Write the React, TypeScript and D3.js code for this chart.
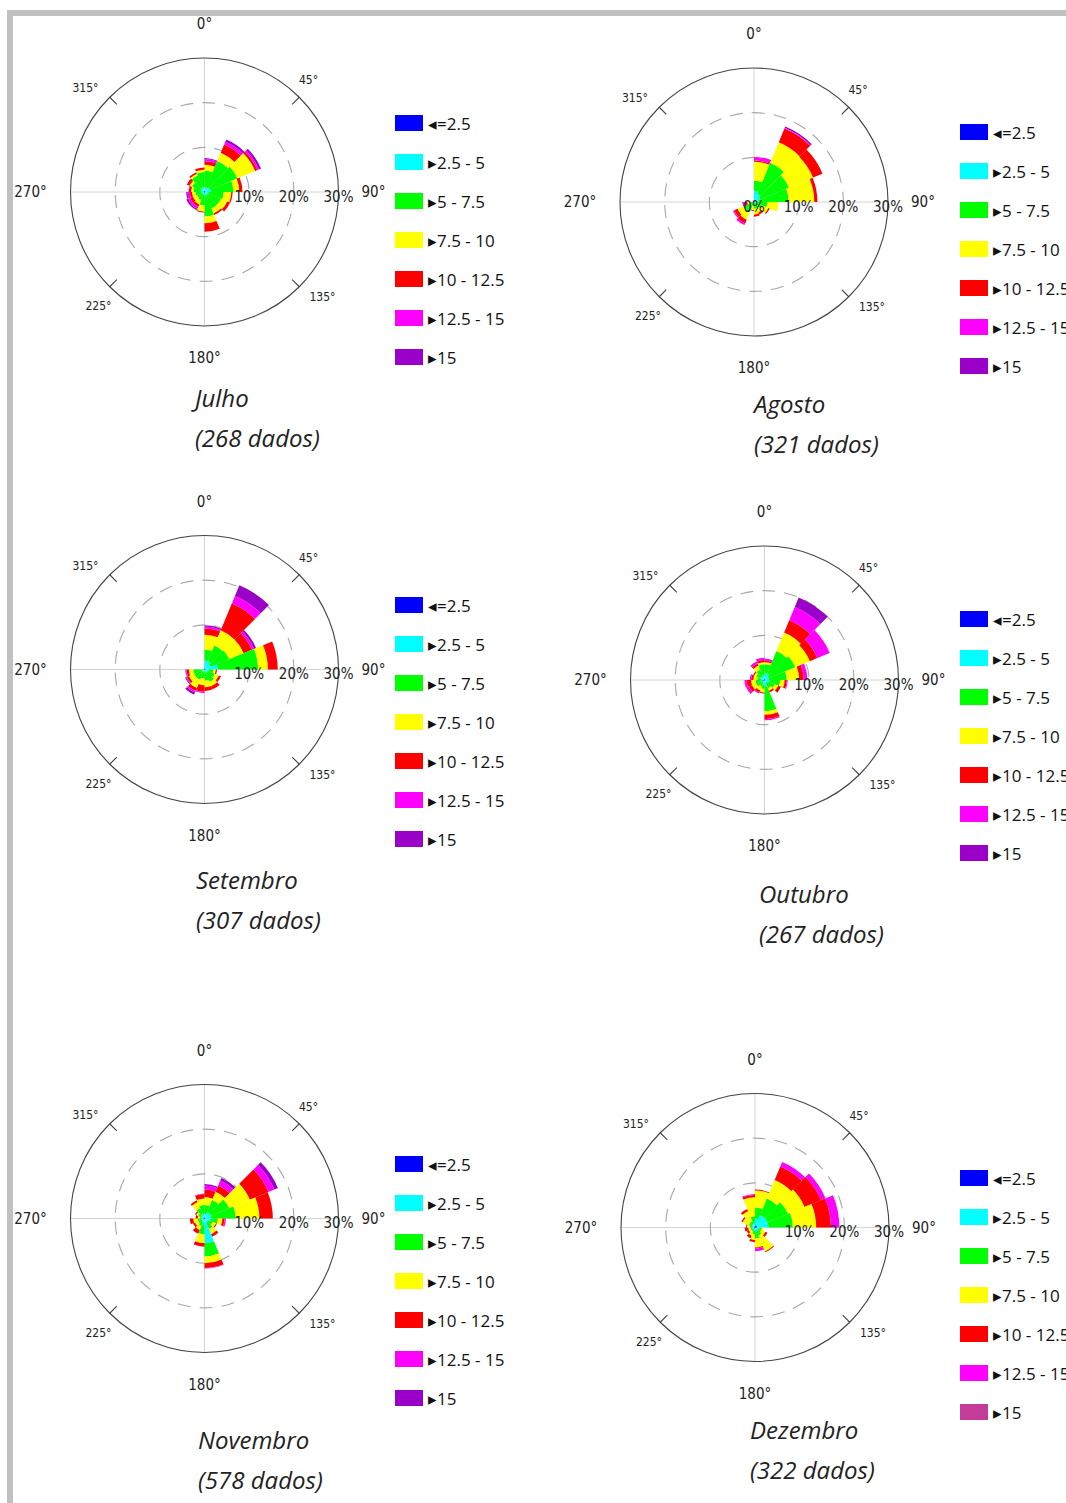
import * as d3 from 'd3';

// speed classes (m/s) and their colours
const classLabels = ['\u25C2=2.5', '\u25B82.5 - 5', '\u25B85 - 7.5', '\u25B87.5 - 10', '\u25B810 - 12.5', '\u25B812.5 - 15', '\u25B815'];
const classColors = ['#0000ff', '#00ffff', '#00ff00', '#ffff00', '#ff0000', '#ff00ff', '#9a00c8'];

// sector start angles (deg, clockwise from north), each 22.5 wide
const sectorStarts = [0, 22.5, 45, 67.5, 90, 112.5, 135, 157.5, 180, 202.5, 225, 247.5, 270, 292.5, 315, 337.5];
const ringTicks = [10, 20];

// frequency (%) per sector, per speed class
const julho = [
  [0.3, 0.7, 3.8, 1.3, 0.8, 0.5, 0.2],
  [0.2, 0.8, 6.5, 2.0, 2.0, 0.7, 0.5],
  [0.2, 1.0, 6.8, 4.3, 0.5, 0.4, 0.5],
  [0.2, 1.3, 5.0, 1.3, 0.7, 0, 0],
  [0.2, 0.8, 3.3, 1.7, 0.3, 0, 0],
  [0.1, 0.7, 3.2, 1.5, 0.7, 0, 0],
  [0.1, 0.7, 3.2, 1.2, 0.4, 0, 0],
  [0.1, 0.7, 4.7, 1.5, 1.9, 0, 0],
  [0.1, 0.5, 2.4, 1.4, 0.2, 0, 0],
  [0.1, 0.5, 1.4, 1.0, 0.6, 0.5, 0.3],
  [0.1, 0.4, 1.3, 1.0, 0.7, 0.5, 0.4],
  [0.2, 0.5, 1.3, 0.8, 0.5, 0.5, 0.3],
  [0.2, 0.6, 1.7, 0.5, 0.5, 0.1, 0],
  [0.2, 0.6, 2.2, 0.6, 0.7, 0, 0],
  [0.2, 0.8, 3.0, 0.4, 0.4, 0, 0],
  [0.2, 0.8, 3.5, 0.5, 0.5, 0, 0],
];
const agosto = [
  [0.3, 2.2, 2.3, 4.2, 0.3, 0.8, 0],
  [0.3, 1.7, 7.5, 5.0, 3.3, 0.2, 0.3],
  [0.2, 1.3, 7.0, 5.8, 2.3, 0, 0],
  [0.2, 0.8, 6.8, 5.7, 0.7, 0, 0],
  [0.1, 0.4, 2.5, 2.5, 0, 0, 0],
  [0.1, 0.3, 1.6, 1.5, 0.3, 0, 0],
  [0.1, 0.2, 1.2, 1.0, 0.5, 0, 0],
  [0.1, 0.2, 1.2, 1.3, 0.5, 0, 0],
  [0.1, 0.2, 0.7, 0.8, 0.2, 0, 0],
  [0.1, 0.4, 2.0, 1.8, 0.9, 0.4, 0],
  [0.1, 0.4, 2.0, 1.5, 0.8, 0.3, 0],
  [0.1, 0.2, 0.5, 0.7, 0.5, 0.6, 0],
  [0.1, 0.1, 0.1, 0, 0, 0, 0],
  [0.1, 0.1, 0, 0, 0, 0, 0],
  [0.1, 0.1, 0, 0, 0, 0, 0],
  [0.1, 0.2, 0.1, 0, 0, 0, 0],
];
const setembro = [
  [0.3, 1.7, 2.5, 3.3, 1.4, 0.4, 0.3],
  [0.3, 1.7, 3.8, 3.7, 6.5, 1.8, 2.6],
  [0.3, 1.2, 4.5, 3.5, 2.0, 0.5, 0.5],
  [0.2, 2.8, 9.0, 2.2, 2.2, 0, 0],
  [0.1, 0.9, 1.0, 0.5, 0.3, 0, 0],
  [0.1, 0.7, 1.7, 1.0, 0.5, 0, 0],
  [0.1, 0.7, 2.2, 1.0, 0.8, 0, 0],
  [0.1, 0.4, 2.0, 1.5, 0.8, 0, 0],
  [0.1, 0.4, 1.5, 1.5, 1.5, 0.3, 0],
  [0.1, 0.4, 2.0, 2.0, 0.7, 0.4, 0.5],
  [0.1, 0.4, 2.0, 1.3, 0.5, 0.2, 0.2],
  [0.1, 0.4, 2.0, 1.0, 0.5, 0.2, 0.1],
  [0.1, 0.2, 0.1, 0, 0, 0, 0],
  [0.1, 0.1, 0, 0, 0, 0, 0],
  [0.1, 0.1, 0, 0, 0, 0, 0],
  [0.1, 0.2, 0.1, 0, 0, 0, 0],
];
const outubro = [
  [0.2, 1.3, 2.0, 0.5, 0.3, 0.5, 0],
  [0.2, 1.3, 5.5, 4.5, 3.0, 3.2, 2.3],
  [0.2, 0.8, 6.5, 3.5, 1.8, 3.0, 0],
  [0.2, 0.8, 4.0, 2.8, 1.0, 0.8, 0],
  [0.2, 1.0, 2.3, 1.0, 0.5, 0.2, 0],
  [0.2, 0.8, 1.5, 0.8, 0.7, 0, 0],
  [0.1, 0.7, 1.2, 0.6, 0.4, 0, 0],
  [0.2, 1.3, 5.5, 0.8, 1.0, 0.2, 0],
  [0.1, 0.9, 1.0, 0.8, 0.2, 0, 0],
  [0.1, 0.4, 1.0, 1.0, 0.5, 0.3, 0],
  [0.1, 0.4, 1.5, 1.0, 0.8, 0.6, 0],
  [0.5, 0.5, 1.0, 1.0, 1.0, 0.5, 0],
  [0.2, 0.6, 0.7, 1.0, 0.5, 0.3, 0],
  [0.2, 0.8, 1.0, 0.5, 0.3, 0, 0],
  [0.2, 0.6, 1.7, 1.0, 0.5, 0.5, 0],
  [0.2, 0.8, 2.5, 0.5, 0.5, 0.5, 0],
];
const novembro = [
  [0.2, 0.8, 2.0, 1.8, 1.7, 0.9, 0.3],
  [0.2, 1.3, 3.0, 2.0, 1.5, 1.2, 0.6],
  [0.2, 1.3, 4.5, 5.0, 4.5, 1.4, 0.9],
  [0.2, 1.3, 5.5, 5.3, 3.0, 0, 0],
  [0.2, 1.3, 1.5, 1.0, 0.5, 0.3, 0],
  [0.1, 0.9, 1.0, 0.8, 0.2, 0, 0],
  [0.1, 0.9, 1.5, 1.3, 0.6, 0, 0],
  [0.2, 5.3, 3.0, 1.5, 1.1, 0.1, 0],
  [0.1, 1.4, 2.0, 2.0, 0.8, 0, 0],
  [0.1, 0.7, 1.0, 1.0, 0.9, 0, 0],
  [0.1, 0.4, 1.0, 0.8, 0.5, 0, 0],
  [0.3, 0.5, 0.7, 1.0, 0.8, 0, 0],
  [0.2, 0.3, 0.5, 0.5, 0.5, 0, 0],
  [0.2, 0.6, 0.7, 0.5, 0.3, 0, 0],
  [0.2, 0.8, 1.5, 1.5, 0.4, 0, 0],
  [0.2, 0.8, 2.0, 1.5, 1.0, 0.1, 0],
];
const dezembro = [
  [0.5, 1.5, 2.5, 3.8, 0.2, 0, 0],
  [0.5, 2.5, 4.0, 4.5, 3.3, 1.1, 0],
  [0.5, 2.5, 5.0, 4.0, 4.0, 1.1, 0],
  [0.5, 2.5, 5.5, 5.2, 3.3, 1.9, 0],
  [0.3, 0.7, 0.5, 0.5, 0, 0, 0],
  [0.2, 0.6, 0.7, 1.0, 0.5, 0, 0],
  [0.2, 0.6, 1.2, 3.8, 0.2, 0, 0],
  [0.2, 0.8, 1.5, 2.0, 0.2, 0.6, 0],
  [0.2, 0.6, 0.7, 1.3, 0.5, 0, 0],
  [0.2, 0.3, 0.5, 1.0, 0.6, 0, 0],
  [0.2, 0.3, 0.5, 0.5, 0.5, 0, 0],
  [0.2, 0.3, 0.5, 0.5, 0.8, 0, 0],
  [0.2, 0.4, 0.6, 0.6, 0.2, 0, 0],
  [0.2, 0.6, 0.7, 1.5, 0.3, 0, 0],
  [0.2, 0.6, 0.7, 2.5, 0.5, 0, 0],
  [0.2, 0.8, 1.5, 4.3, 0.5, 0.2, 0],
];

const months = ['Julho', 'Agosto', 'Setembro', 'Outubro', 'Novembro', 'Dezembro'];
const counts = ['(268 dados)', '(321 dados)', '(307 dados)', '(267 dados)', '(578 dados)', '(322 dados)'];
const monthData = [julho, agosto, setembro, outubro, novembro, dezembro];

// layout of each panel
const layout = [
  { cx: 204.5, cy: 192, legendY: 123, legendX: 395, titleX: 195, titleY: 407, zero: false, last: '#9a00c8' },
  { cx: 754, cy: 202, legendY: 132, legendX: 960, titleX: 754, titleY: 413, zero: true, last: '#9a00c8' },
  { cx: 204.5, cy: 669.5, legendY: 605, legendX: 395, titleX: 196, titleY: 889, zero: false, last: '#9a00c8' },
  { cx: 764.5, cy: 680, legendY: 619, legendX: 960, titleX: 759, titleY: 903, zero: false, last: '#9a00c8' },
  { cx: 204.5, cy: 1218.5, legendY: 1164, legendX: 395, titleX: 198, titleY: 1449, zero: false, last: '#9a00c8' },
  { cx: 755, cy: 1227.5, legendY: 1178, legendX: 960, titleX: 750, titleY: 1439, zero: false, last: '#c43c9a' },
];

const degLabels = [
  { t: '0°', dx: 0, dy: -168, big: true },
  { t: '45°', dx: 104, dy: -112, big: false },
  { t: '90°', dx: 169, dy: 0, big: true },
  { t: '135°', dx: 118, dy: 105, big: false },
  { t: '180°', dx: 0, dy: 166, big: true },
  { t: '225°', dx: -106, dy: 114, big: false },
  { t: '270°', dx: -174, dy: 0, big: true },
  { t: '315°', dx: -119, dy: -104, big: false },
];

const axisFont = "'DejaVu Sans Condensed', 'Liberation Sans Narrow', 'DejaVu Sans', sans-serif";
const textFont = "'Open Sans', 'Noto Sans', sans-serif";
const rad = (deg: number) => (deg * Math.PI) / 180;

function Rose({ idx }: { idx: number }) {
  const p = layout[idx];
  const data = monthData[idx];
  const r = d3.scaleLinear().domain([0, 30]).range([0, 134]);
  const arc = d3.arc<any>();
  const R = r(30);

  const segs: any[] = [];
  data.forEach((row, i) => {
    const cum = d3.cumsum(row);
    row.forEach((v, j) => {
      if (v <= 0) return;
      segs.push({
        key: `${i}-${j}`,
        color: classColors[j],
        d: arc({
          innerRadius: r(j ? cum[j - 1] : 0),
          outerRadius: r(cum[j]),
          startAngle: rad(sectorStarts[i]),
          endAngle: rad(sectorStarts[i] + 22.5),
        }),
      });
    });
  });

  const colors = classColors.map((c, j) => (j === 6 ? p.last : c));

  return (
    <g>
      <g transform={`translate(${p.cx},${p.cy})`}>
        <line x1={-R} x2={R} y1={0} y2={0} stroke="#d4d4d4" strokeWidth={1} />
        <line x1={0} x2={0} y1={-R} y2={R} stroke="#d4d4d4" strokeWidth={1} />
        {ringTicks.map((t) => (
          <circle key={t} r={r(t)} fill="none" stroke="#a8a8a8" strokeWidth={1.1} strokeDasharray="13 9" />
        ))}
        <circle r={R} fill="none" stroke="#444" strokeWidth={1.1} />
        {[45, 135, 225, 315].map((a) => (
          <line
            key={a}
            x1={Math.sin(rad(a)) * R}
            y1={-Math.cos(rad(a)) * R}
            x2={Math.sin(rad(a)) * (R - 10)}
            y2={-Math.cos(rad(a)) * (R - 10)}
            stroke="#444"
            strokeWidth={1.1}
          />
        ))}
        {segs.map((s) => (
          <path key={s.key} d={s.d} fill={s.color} />
        ))}
        {(p.zero ? [0, 10, 20, 30] : [10, 20, 30]).map((t) => (
          <text
            key={t}
            x={r(t)}
            y={4.5}
            textAnchor="middle"
            dominantBaseline="central"
            fontFamily={axisFont}
            fontSize={15}
            fill="#222"
          >
            {t}%
          </text>
        ))}
        {degLabels.map((l) => (
          <text
            key={l.t}
            x={l.dx}
            y={l.dy}
            textAnchor="middle"
            dominantBaseline="central"
            fontFamily={axisFont}
            fontSize={l.big ? 15 : 12}
            fill="#222"
          >
            {l.t}
          </text>
        ))}
      </g>
      <g transform={`translate(${p.legendX},${p.legendY})`}>
        {classLabels.map((c, j) => (
          <g key={c} transform={`translate(0,${j * 39})`}>
            <rect x={0} y={-8} width={28} height={16} fill={colors[j]} />
            <text x={33} y={0} dominantBaseline="central" fontFamily={textFont} fontSize={17} fill="#111">
              {c}
            </text>
          </g>
        ))}
      </g>
      <text x={p.titleX} y={p.titleY} fontFamily={textFont} fontStyle="italic" fontSize={24} fill="#222">
        {months[idx]}
      </text>
      <text x={p.titleX} y={p.titleY + 40} fontFamily={textFont} fontStyle="italic" fontSize={24} fill="#222">
        {counts[idx]}
      </text>
    </g>
  );
}

export default function App() {
  return (
    <svg
      width={1066}
      height={1503}
      style={{ position: 'absolute', left: 0, top: 0, background: '#fff' }}
    >
      <rect x={0} y={0} width={1066} height={1503} fill="#fff" />
      <rect x={7} y={10} width={1059} height={6} fill="#c0c0c0" />
      <rect x={7} y={10} width={6} height={1493} fill="#c0c0c0" />
      {months.map((m, i) => (
        <Rose key={m} idx={i} />
      ))}
    </svg>
  );
}
